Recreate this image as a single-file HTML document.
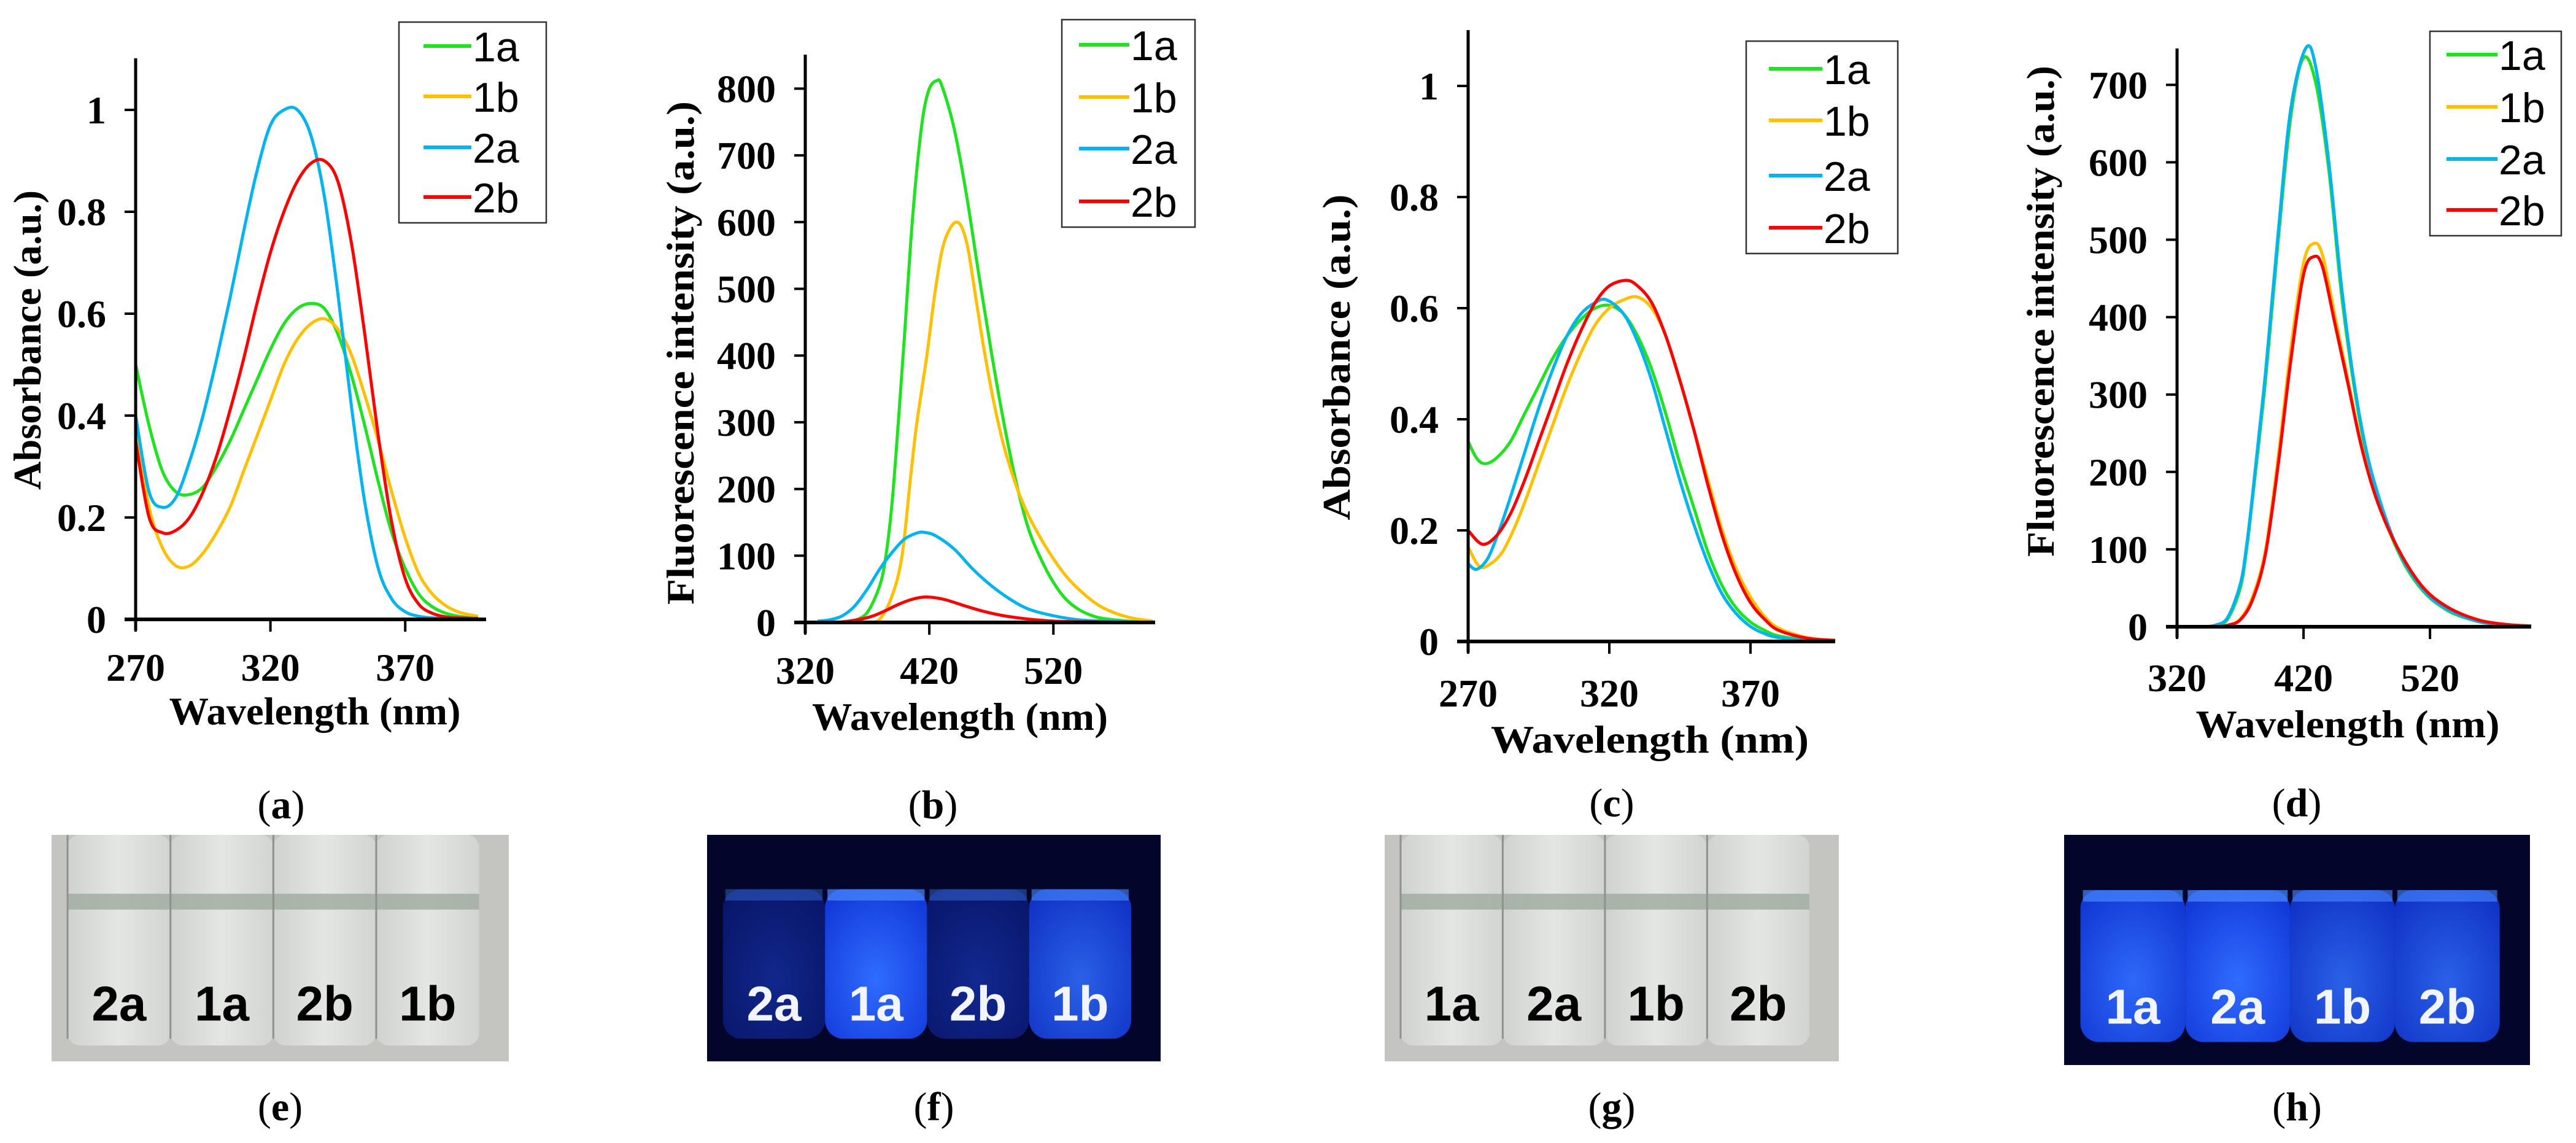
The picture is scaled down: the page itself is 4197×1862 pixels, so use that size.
<!DOCTYPE html>
<html><head><meta charset="utf-8"><style>
html,body{margin:0;padding:0;background:#fff;}
svg{display:block;}
.tk{font-family:"Liberation Serif",serif;font-weight:bold;font-size:64px;fill:#000;}
.tt{font-family:"Liberation Serif",serif;font-weight:bold;font-size:64px;fill:#000;}
.lg{font-family:"Liberation Sans",sans-serif;font-size:68px;fill:#000;}
.cap{font-family:"Liberation Serif",serif;font-size:66px;fill:#000;}
.tl{font-family:"Liberation Sans",sans-serif;font-weight:bold;font-size:80px;}
</style></head><body>
<svg id="fig" xmlns="http://www.w3.org/2000/svg" width="4197" height="1862" viewBox="0 0 4197 1862">
<defs>
<linearGradient id="tubeW" x1="0" x2="1"><stop offset="0" stop-color="#cfd2cf"/><stop offset="0.5" stop-color="#e4e6e3"/><stop offset="1" stop-color="#d2d4d1"/></linearGradient>
<radialGradient id="glowB" cx="0.5" cy="0.6" r="0.7"><stop offset="0" stop-color="#2f6cff"/><stop offset="1" stop-color="#1238d8"/></radialGradient>
<radialGradient id="glowD" cx="0.5" cy="0.6" r="0.7"><stop offset="0" stop-color="#1a3cc8"/><stop offset="1" stop-color="#0c1f90"/></radialGradient>
</defs>
</svg>
<script>
// ---- Panel (a) data: absorbance ----
const aWl=[270,275,280,285,290,295,300,305,310,315,320,325,330,335,340,345,350,355,360,365,370,375,380,385,390,395,397];
const a1a=[0.50,0.38,0.29,0.25,0.245,0.26,0.30,0.35,0.41,0.47,0.53,0.58,0.61,0.62,0.61,0.56,0.48,0.38,0.27,0.17,0.10,0.05,0.025,0.012,0.006,0.003,0.002];
const a1b=[0.38,0.22,0.14,0.105,0.105,0.13,0.17,0.22,0.29,0.36,0.43,0.50,0.55,0.58,0.59,0.57,0.52,0.44,0.35,0.25,0.16,0.09,0.05,0.027,0.014,0.008,0.006];
const a2a=[0.40,0.25,0.22,0.24,0.31,0.40,0.51,0.63,0.76,0.88,0.97,1.0,1.0,0.95,0.83,0.64,0.42,0.23,0.10,0.04,0.015,0.006,0.003,0.002,0.001,0.001,0.001];
const a2b=[0.35,0.20,0.17,0.175,0.20,0.25,0.32,0.41,0.51,0.62,0.72,0.80,0.86,0.895,0.90,0.86,0.74,0.56,0.36,0.19,0.08,0.03,0.012,0.005,0.003,0.002,0.002];
const aYTicks=[0,0.2,0.4,0.6,0.8,1];
const aYLabels=['0','0.2','0.4','0.6','0.8','1'];
const aXTicks=[270,320,370];
// ---- Panel (b) data: fluorescence ----
const b1aWl=[360,370,380,385,390,395,400,405,410,415,420,426,430,440,450,460,470,480,490,500,510,520,530,540,550,560,580,600];
const b1a=[3,15,55,100,180,300,430,570,680,760,800,812,805,740,640,520,405,300,210,140,95,60,35,20,11,6,2,0];
const b1bWl=[370,380,390,398,405,410,418,425,432,442,450,458,464,472,480,490,500,515,530,545,560,580,600];
const b1b=[0,5,40,100,220,300,400,500,570,600,570,480,410,330,265,205,160,110,70,42,22,8,2];
const b2aWl=[330,340,350,360,370,380,390,400,410,416,425,440,455,470,485,500,520,540,560,580,600];
const b2a=[2,4,10,25,50,80,105,125,134,135,130,110,80,55,35,20,10,4,2,1,0];
const b2bWl=[345,355,365,375,385,395,405,415,425,435,450,465,480,500,520,540,600];
const b2b=[0,2,5,10,18,27,34,38,37,33,24,16,10,5,2,1,0];
const bYTicks=[0,100,200,300,400,500,600,700,800];
const bXTicks=[320,420,520];
// ---- Panel (c) data: absorbance ----
const c1aWl=[270,273,276,280,285,290,295,300,305,310,315,320,325,330,335,340,345,350,355,360,365,370,375,380,390,400];
const c1a=[0.36,0.33,0.32,0.33,0.36,0.41,0.46,0.51,0.55,0.58,0.60,0.605,0.59,0.55,0.49,0.41,0.32,0.24,0.16,0.10,0.06,0.035,0.02,0.01,0.003,0.001];
const c1bWl=[270,274,278,282,286,290,295,300,305,310,315,320,325,330,335,340,345,350,355,360,365,370,375,380,390,400];
const c1b=[0.17,0.135,0.14,0.16,0.20,0.25,0.32,0.39,0.46,0.52,0.57,0.60,0.615,0.62,0.60,0.55,0.47,0.38,0.29,0.20,0.13,0.08,0.045,0.024,0.007,0.002];
const c2aWl=[270,273,277,281,285,290,295,300,305,310,315,319,325,330,335,340,345,350,355,360,365,370,375,380,390,400];
const c2a=[0.14,0.13,0.15,0.20,0.26,0.34,0.42,0.49,0.55,0.59,0.61,0.615,0.59,0.54,0.47,0.38,0.29,0.21,0.14,0.085,0.05,0.027,0.014,0.007,0.002,0.0];
const c2bWl=[270,275,280,285,290,295,300,305,310,315,320,326,330,335,340,345,350,355,360,365,370,375,380,390,400];
const c2b=[0.20,0.175,0.19,0.23,0.29,0.36,0.43,0.50,0.56,0.61,0.64,0.65,0.64,0.61,0.55,0.47,0.38,0.28,0.19,0.12,0.07,0.04,0.02,0.006,0.002];
const cYTicks=[0,0.2,0.4,0.6,0.8,1];
const cYLabels=['0','0.2','0.4','0.6','0.8','1'];
const cXTicks=[270,320,370];
// ---- Panel (d) data: fluorescence ----
const d1aWl=[330,340,350,360,370,375,380,390,400,410,420,430,440,450,460,470,480,490,500,510,520,530,540,560,580,600];
const d1a=[0,0,1,10,50,100,170,320,500,660,735,700,590,430,310,220,160,115,80,55,37,25,16,6,2,0];
const d2aWl=[330,340,350,360,370,375,380,390,400,410,422,430,440,450,460,470,480,490,500,510,520,530,540,560,580,600];
const d2a=[0,0,2,12,55,105,175,330,510,670,748,720,600,440,315,225,165,118,82,57,38,26,17,6,2,0];
const d1bWl=[350,360,370,380,390,400,410,420,428,435,445,455,465,475,485,495,505,515,525,540,560,580,600];
const d1b=[0,2,10,40,100,220,360,470,495,480,400,320,240,180,135,100,72,50,35,20,8,3,1];
const d2b=[0,2,9,36,95,210,345,455,478,465,390,315,238,178,134,100,72,50,35,20,8,3,1];
const dYTicks=[0,100,200,300,400,500,600,700];
const dXTicks=[320,420,520];

const NS='http://www.w3.org/2000/svg';
const svg=document.getElementById('fig');
const COLORS={'1a':'#1fe31f','1b':'#ffc000','2a':'#00b4f0','2b':'#ff0000'};
function mk(tag,attrs,parent){const e=document.createElementNS(NS,tag);for(const k in attrs)e.setAttribute(k,attrs[k]);(parent||svg).appendChild(e);return e;}
function spline(pts){
  let d='M'+pts[0][0].toFixed(1)+','+pts[0][1].toFixed(1);
  for(let i=0;i<pts.length-1;i++){
    const p0=pts[Math.max(0,i-1)],p1=pts[i],p2=pts[i+1],p3=pts[Math.min(pts.length-1,i+2)];
    const c1x=p1[0]+(p2[0]-p0[0])/6,c1y=p1[1]+(p2[1]-p0[1])/6;
    const c2x=p2[0]-(p3[0]-p1[0])/6,c2y=p2[1]-(p3[1]-p1[1])/6;
    d+=' C'+c1x.toFixed(1)+','+c1y.toFixed(1)+' '+c2x.toFixed(1)+','+c2y.toFixed(1)+' '+p2[0].toFixed(1)+','+p2[1].toFixed(1);
  }
  return d;
}
function panel(p){
  const g=mk('g',{});
  
  
  const sx=v=>p.px0+(v-p.xmin)*(p.px1-p.px0)/(p.xmax-p.xmin);
  const sy=v=>p.py0-v*p.pyPer;
  p.series.forEach(s=>{
    const pts=s.x.map((w,i)=>[sx(w),sy(s.y[i])]);
    const path=mk('path',{d:spline(pts),fill:'none',stroke:COLORS[s.name],'stroke-width':5,'stroke-linejoin':'round'},g);
    
    
  });
  const ya=mk('line',{x1:p.px0,y1:p.axisTop,x2:p.px0,y2:p.py0+18,stroke:'#000','stroke-width':5},g);
  
  
  const xa=mk('line',{x1:p.px0-18,y1:p.py0,x2:p.px1,y2:p.py0,stroke:'#000','stroke-width':6},g);
  
  
  p.yTicks.forEach((v,i)=>{
    mk('line',{x1:p.px0-18,y1:sy(v),x2:p.px0,y2:sy(v),stroke:'#000','stroke-width':4},g);
    const t=mk('text',{x:p.px0-48,y:sy(v)+22,'text-anchor':'end',class:'tk'},g);
    t.textContent=p.yLabels?p.yLabels[i]:String(v);
    
    
  });
  p.xTicks.forEach(v=>{
    mk('line',{x1:sx(v),y1:p.py0,x2:sx(v),y2:p.py0+20,stroke:'#000','stroke-width':4},g);
    const t=mk('text',{x:sx(v),y:p.py0+p.xlab,'text-anchor':'middle',class:'tk'},g);
    t.textContent=String(v);
    
    
  });
  const xt=mk('text',{x:p.xtX,y:p.xtY,'text-anchor':'middle',class:'tt',textLength:p.xtW,lengthAdjust:'spacingAndGlyphs'},g);
  xt.textContent='Wavelength (nm)';
  
  
  const yt=mk('text',{x:0,y:0,'text-anchor':'middle',class:'tt',textLength:p.ytW,lengthAdjust:'spacingAndGlyphs',transform:'translate('+p.ytX+','+p.ytY+') rotate(-90)'},g);
  yt.textContent=p.ytitle;
  
  
  const L=p.legend;
  const lg=mk('g',{},g);
  
  
  mk('rect',{x:L.x0,y:L.y0,width:L.x1-L.x0,height:L.y1-L.y0,fill:'#fff',stroke:'#333','stroke-width':2.5},lg);
  ['1a','1b','2a','2b'].forEach((n,i)=>{
    const y=L.ys[i];
    const ln=mk('line',{x1:L.lx0,y1:y,x2:L.lx1,y2:y,stroke:COLORS[n],'stroke-width':6},lg);
    
    
    const t=mk('text',{x:L.lx1+2,y:y+25,class:'lg'},lg);
    t.textContent=n;
    
    
  });
  const cap=mk('text',{x:p.capX,y:p.capY,'text-anchor':'middle',class:'cap'},g);
  cap.innerHTML='(<tspan font-weight="bold">'+p.id+'</tspan>)';
  
  
}
panel({id:'a',px0:221,px1:792,xmin:270,xmax:400,py0:1009,pyPer:830,axisTop:95,
  series:[{name:'1a',x:aWl,y:a1a},{name:'1b',x:aWl,y:a1b},{name:'2a',x:aWl,y:a2a},{name:'2b',x:aWl,y:a2b}],
  yTicks:aYTicks,yLabels:aYLabels,xTicks:aXTicks,xlab:100,xtX:513,xtY:1180,xtW:475,ytitle:'Absorbance (a.u.)',ytX:66,ytY:554,ytW:488,
  legend:{x0:650,x1:890,y0:36,y1:363,lx0:690,lx1:768,ys:[75,157,240,321]},capX:458,capY:1333});
panel({id:'b',px0:1312,px1:1882,xmin:320,xmax:602,py0:1014,pyPer:1.087,axisTop:89,
  series:[{name:'1a',x:b1aWl,y:b1a},{name:'1b',x:b1bWl,y:b1b},{name:'2a',x:b2aWl,y:b2a},{name:'2b',x:b2bWl,y:b2b}],
  yTicks:bYTicks,xTicks:bXTicks,xlab:100,xtX:1564,xtY:1189,xtW:482,ytitle:'Fluorescence intensity (a.u.)',ytX:1130,ytY:575,ytW:820,
  legend:{x0:1730,x1:1947,y0:32,y1:370,lx0:1758,lx1:1840,ys:[73,158,242,328]},capX:1520,capY:1333});
panel({id:'c',px0:2392,px1:2990,xmin:270,xmax:400,py0:1045,pyPer:905,axisTop:49,
  series:[{name:'1a',x:c1aWl,y:c1a},{name:'1b',x:c1bWl,y:c1b},{name:'2a',x:c2aWl,y:c2a},{name:'2b',x:c2bWl,y:c2b}],
  yTicks:cYTicks,yLabels:cYLabels,xTicks:cXTicks,xlab:106,xtX:2688,xtY:1226,xtW:518,ytitle:'Absorbance (a.u.)',ytX:2199,ytY:582,ytW:531,
  legend:{x0:2845,x1:3092,y0:67,y1:413,lx0:2882,lx1:2969,ys:[112,196,286,371]},capX:2626,capY:1330});
panel({id:'d',px0:3547,px1:4124,xmin:320,xmax:600,py0:1021,pyPer:1.261,axisTop:79,
  series:[{name:'1a',x:d1aWl,y:d1a},{name:'1b',x:d1bWl,y:d1b},{name:'2a',x:d2aWl,y:d2a},{name:'2b',x:d1bWl,y:d2b}],
  yTicks:dYTicks,xTicks:dXTicks,xlab:105,xtX:3825,xtY:1201,xtW:495,ytitle:'Fluorescence intensity (a.u.)',ytX:3346,ytY:507,ytW:800,
  legend:{x0:3959,x1:4173,y0:51,y1:384,lx0:3986,lx1:4069,ys:[89,174,259,342]},capX:3742,capY:1330});

function photo(id,x0,y0,w,h,dark,labels,bright){
  const g=mk('g',{});
  
  
  mk('rect',{x:x0,y:y0,width:w,height:h,fill:dark?'#03062a':'#c4c5c1'},g);
  const tw=w*0.225, starts=[0.035,0.26,0.485,0.71];
  starts.forEach((f,i)=>{
    const tx=x0+f*w;
    if(dark){
      const b=bright[i];
      const fill=b>0.7?'url(#glowB)':'url(#glowD)';
      mk('rect',{x:tx,y:y0+0.24*h,width:tw,height:0.66*h,rx:30,fill:fill,opacity:0.45+0.55*b},g);
      mk('rect',{x:tx+4,y:y0+0.24*h,width:tw-8,height:0.05*h,fill:'#4a8cff',opacity:0.5*b+0.2},g);
    } else {
      mk('rect',{x:tx,y:y0,width:tw,height:0.93*h,rx:20,fill:'url(#tubeW)'},g);
      mk('rect',{x:tx,y:y0+0.26*h,width:tw,height:0.07*h,fill:'#9faa9f',opacity:0.8},g);
      mk('line',{x1:tx,y1:y0,x2:tx,y2:y0+0.9*h,stroke:'#8e918e','stroke-width':3},g);
    }
    const t=mk('text',{x:tx+tw*0.5,y:y0+0.82*h,'text-anchor':'middle',class:'tl',fill:dark?'#f2f4ff':'#000'},g);
    t.textContent=labels[i];
    
    
  });
  const cap=mk('text',{x:x0+w/2,y:1825,'text-anchor':'middle',class:'cap'},g);
  cap.innerHTML='(<tspan font-weight="bold">'+id+'</tspan>)';
  
  
}
photo('e',84,1360,745,369,false,['2a','1a','2b','1b']);
photo('f',1152,1360,739,369,true,['2a','1a','2b','1b'],[0.3,1,0.35,0.8]);
photo('g',2256,1360,740,369,false,['1a','2a','1b','2b']);
photo('h',3363,1360,759,375,true,['1a','2a','1b','2b'],[0.95,1,0.8,0.8]);
</script>
</body></html>
